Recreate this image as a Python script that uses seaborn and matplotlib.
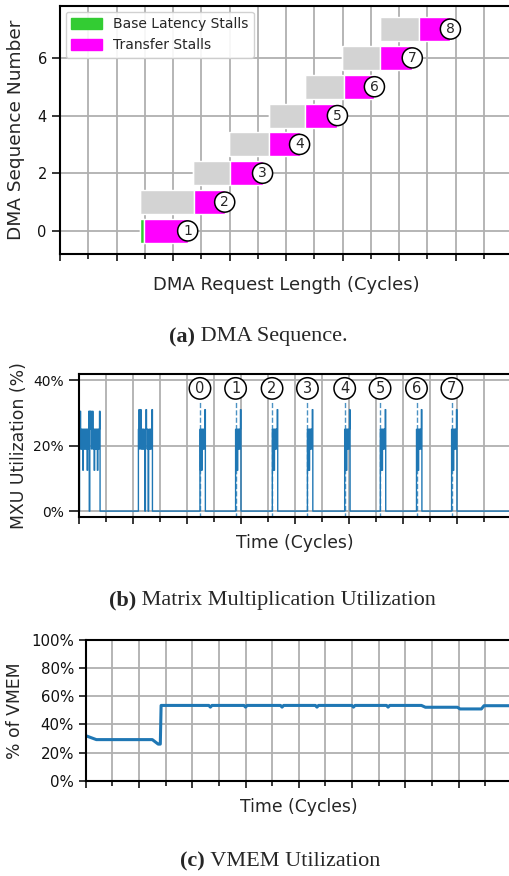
import numpy as np
import pandas as pd
import matplotlib
matplotlib.use('Agg')
import matplotlib.pyplot as plt
import matplotlib.ticker as mticker
from matplotlib.patches import Patch
import seaborn as sns

sns.set_theme(style='ticks')
plt.rcParams['font.family'] = ['DejaVu Sans']

# ---- (a) DMA sequence: bar edges in grid units ----
dma_rows = [0, 1, 2, 3, 4, 5, 6, 7]
dma_labels = ['1', '2', '3', '4', '5', '6', '7', '8']
queue_start = [2.83, 2.83, 4.70, 5.97, 7.39, 8.69, 9.99, 11.34]
base_latency = [0.14, 0, 0, 0, 0, 0, 0, 0]
transfer_start = [2.97, 4.73, 6.01, 7.39, 8.69, 10.04, 11.34, 12.72]
transfer_end = [4.52, 5.83, 7.17, 8.48, 9.82, 11.13, 12.47, 13.82]

# ---- (b) MXU utilization (%) ----
mxu_dt = 0.02
mxu_burst1 = [0, 25, 30.5, 19, 25, 19, 25, 12.5, 25, 19, 25, 19, 25, 19, 25, 12.5, 25, 19,
              30.5, 0, 30.5, 25, 30.5, 19, 25, 30.5, 19, 25, 12.5, 25, 19, 25, 19, 25, 12.5,
              25, 19, 25, 30.5, 0]
mxu_burst2 = [25, 31, 19, 25, 31, 19, 25, 19, 25, 19, 25, 19, 0, 25, 31, 25, 19, 25, 0, 19,
              25, 19, 25, 19, 25, 31, 0]
mxu_small_burst = [25, 12.5, 25, 12.5, 25, 19, 25, 19, 25, 31, 0]
dma_issue_times = [4.48, 5.80, 7.15, 8.46, 9.84, 11.15, 12.50, 13.81]
dma_issue_labels = ['0', '1', '2', '3', '4', '5', '6', '7']

# ---- (c) VMEM utilization (%) ----
vmem_time = [0, 0.4, 2.5, 2.72, 2.8, 2.83, 4.62, 4.68, 4.74, 5.94, 6.0, 6.06, 7.31, 7.37, 7.43,
             8.62, 8.68, 8.74, 9.99, 10.05, 10.11, 11.29, 11.35, 11.41, 12.6, 12.75, 13.95,
             14.05, 14.85, 14.95, 16]
vmem_pct = [32, 29.2, 29.2, 26, 26, 53.5, 53.5, 52.3, 53.5, 53.5, 52.3, 53.5, 53.5, 52.3, 53.5,
            53.5, 52.3, 53.5, 53.5, 52.3, 53.5, 53.5, 52.3, 53.5, 53.5, 52.2, 52.2,
            51, 51, 53.3, 53.3]

W, H = 509, 876
fig = plt.figure(figsize=(W / 100, H / 100), dpi=100)


def px_axes(left, top, right, bottom):
    return fig.add_axes([left / W, 1 - bottom / H, (right - left) / W, (bottom - top) / H])


def style_axes(ax, ytick_len):
    ax.set_xlim(0, 16)
    ax.xaxis.set_major_locator(mticker.MultipleLocator(2))
    ax.xaxis.set_minor_locator(mticker.MultipleLocator(1))
    ax.xaxis.set_major_formatter(mticker.NullFormatter())
    ax.grid(True, which='both', axis='x', color='#b0b0b0', lw=1.3)
    ax.grid(True, which='major', axis='y', color='#b0b0b0', lw=1.3)
    ax.tick_params(axis='x', which='major', length=5, width=1.1, color='black')
    ax.tick_params(axis='x', which='minor', length=3.5, width=1.1, color='black')
    ax.tick_params(axis='y', length=ytick_len, width=1.1, color='black', labelcolor='#111111')
    for s in ax.spines.values():
        s.set_color('black')
        s.set_linewidth(1.5)


# (a)
ax1 = px_axes(60, 6, 512, 254)
ax1.barh(dma_rows, np.subtract(transfer_start, queue_start), left=queue_start,
         height=0.83, color='lightgray', zorder=1)
ax1.barh(dma_rows, base_latency, left=queue_start, height=0.83, color='#33cc33', zorder=1)
ax1.barh(dma_rows, np.subtract(transfer_end, transfer_start), left=transfer_start,
         height=0.83, color='#ff00ff', zorder=1)
for r, x, lab in zip(dma_rows, transfer_end, dma_labels):
    ax1.text(x, r, lab, ha='center', va='center', fontsize=10, zorder=5,
             bbox=dict(boxstyle='circle,pad=0.22', fc='white', ec='black', lw=1.1))
ax1.set_ylim(-0.8, 7.8)
ax1.yaxis.set_major_locator(mticker.MultipleLocator(2))
style_axes(ax1, 6)
ax1.tick_params(axis='y', labelsize=10.5)
ax1.set_xlabel('DMA Request Length (Cycles)', fontsize=13, labelpad=7)
ax1.set_ylabel('DMA Sequence Number', fontsize=13.3, labelpad=9)
ax1.legend(handles=[Patch(color='#33cc33', label='Base Latency Stalls'),
                    Patch(color='#ff00ff', label='Transfer Stalls')],
           loc='upper left', fontsize=10, handlelength=2.2, handleheight=0.85,
           borderaxespad=0.4, framealpha=0.9, fancybox=True)

# (b)
mxu_t = np.arange(800) * mxu_dt
mxu = np.zeros(800)
for start, vals in [(0.0, mxu_burst1), (2.19, mxu_burst2)] + \
        [(t, mxu_small_burst) for t in dma_issue_times]:
    i0 = int(round(start / mxu_dt))
    mxu[i0:i0 + len(vals)] = vals
mxu_df = pd.DataFrame({'time': mxu_t, 'util': mxu})

ax2 = px_axes(79, 374, 511, 517)
sns.lineplot(data=mxu_df, x='time', y='util', ax=ax2, color='#1f77b4', lw=1,
             drawstyle='steps-post', estimator=None)
ax2.vlines(dma_issue_times, -2, 33.8, colors='#1f77b4', linestyles='--', lw=1, alpha=0.8)
for t, lab in zip(dma_issue_times, dma_issue_labels):
    ax2.text(t, 37.5, lab, ha='center', va='center', fontsize=10.5, zorder=5,
             bbox=dict(boxstyle='circle,pad=0.22', fc='white', ec='black', lw=1.1))
ax2.set_ylim(-1.8, 41.9)
ax2.yaxis.set_major_locator(mticker.MultipleLocator(20))
ax2.yaxis.set_major_formatter(mticker.FuncFormatter(lambda v, p: f'{v:.0f}%'))
style_axes(ax2, 7.5)
ax2.tick_params(axis='y', labelsize=10)
ax2.set_xlabel('Time (Cycles)', fontsize=12.4, labelpad=4)
ax2.set_ylabel('MXU Utilization (%)', fontsize=12.4, labelpad=4)

# (c)
vmem_df = pd.DataFrame({'time': vmem_time, 'pct': vmem_pct})
ax3 = px_axes(85.7, 640, 512, 780.7)
sns.lineplot(data=vmem_df, x='time', y='pct', ax=ax3, color='#1f77b4', lw=2.2, estimator=None)
ax3.set_ylim(0, 100)
ax3.yaxis.set_major_locator(mticker.MultipleLocator(20))
ax3.yaxis.set_major_formatter(mticker.FuncFormatter(lambda v, p: f'{v:.0f}%'))
style_axes(ax3, 5)
ax3.tick_params(axis='y', labelsize=10.8)
ax3.set_xlabel('Time (Cycles)', fontsize=12.4, labelpad=4)
ax3.set_ylabel('% of VMEM', fontsize=12.4, labelpad=5)

# captions
renderer = fig.canvas.get_renderer()


def caption(cx, cy, bold, rest, size=16):
    t1 = fig.text(0, 0, bold, fontsize=size, fontweight='bold', family='Liberation Serif')
    t2 = fig.text(0, 0, ' ' + rest, fontsize=size, family='Liberation Serif')
    w1 = t1.get_window_extent(renderer).width
    w2 = t2.get_window_extent(renderer).width
    x0 = cx - (w1 + w2) / 2
    t1.set_position((x0 / W, 1 - cy / H))
    t2.set_position(((x0 + w1) / W, 1 - cy / H))
    t1.set_va('center')
    t2.set_va('center')


caption(258, 337, '(a)', 'DMA Sequence.')
caption(272.5, 600, '(b)', 'Matrix Multiplication Utilization')
caption(280, 861, '(c)', 'VMEM Utilization')

fig.savefig('out.png', dpi=100)
